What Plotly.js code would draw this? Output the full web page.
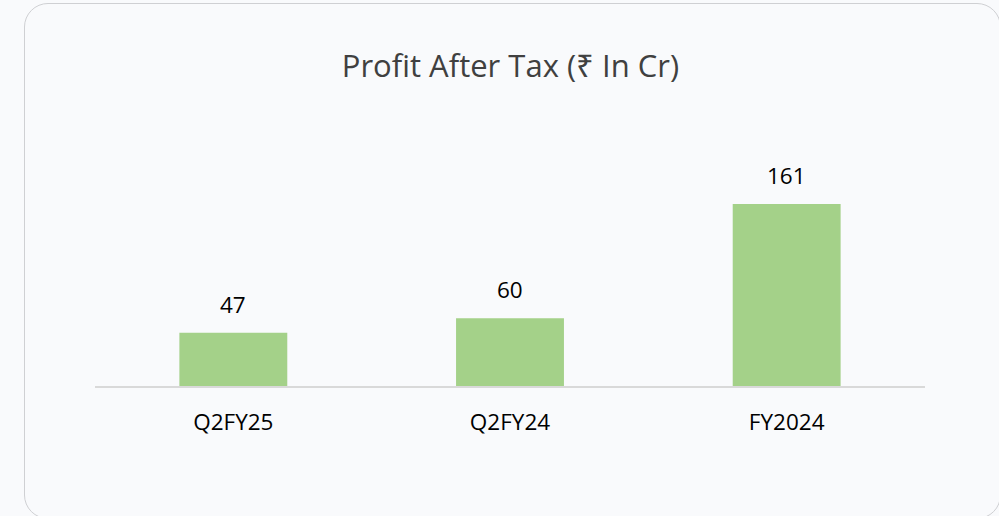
<!DOCTYPE html>
<html>
<head>
<meta charset="utf-8">
<script src="https://cdn.plot.ly/plotly-3.0.1.min.js"></script>
<style>
  html, body { margin: 0; padding: 0; background: #f9fafc; }
  #card { position: absolute; left: 24px; top: 3px; width: 977px; height: 516px;
          border: 1.5px solid #cfd0d3; border-radius: 24px; box-sizing: border-box; background: #f9fafc; }
  #chart { position: absolute; left: 0; top: 0; width: 999px; height: 516px; }
</style>
</head>
<body>
<div id="card"></div>
<div id="chart"></div>
<script>
const categories = ["Q2FY25", "Q2FY24", "FY2024"];
const profitValues = [47, 60, 161];
const valueLabels = ["47", "60", "161"];

const trace = {
  type: "bar",
  x: categories,
  y: profitValues,
  marker: { color: "#a4d189" },
  hoverinfo: "none"
};

const annotations = categories.map((c, i) => ({
  x: c, y: profitValues[i], xref: "x", yref: "y",
  text: valueLabels[i], showarrow: false, yanchor: "bottom", yshift: 11,
  font: { family: "Open Sans, sans-serif", size: 22.5, color: "#000000" }
}));

const layout = {
  width: 999, height: 516,
  paper_bgcolor: "rgba(0,0,0,0)", plot_bgcolor: "rgba(0,0,0,0)",
  margin: { l: 95, r: 74, t: 120, b: 130 },
  bargap: 0.61,
  showlegend: false,
  title: {
    text: "Profit After Tax (₹ In Cr)",
    x: 0.511, xanchor: "center", y: 0.872, yanchor: "middle",
    font: { family: "Open Sans, sans-serif", size: 31, color: "#404040" }
  },
  xaxis: {
    showline: true, linecolor: "#d9d9d9", linewidth: 2,
    showgrid: false, zeroline: false, ticks: "",
    ticklabelstandoff: 15,
    tickfont: { family: "Open Sans, sans-serif", size: 22.5, color: "#000000" },
    fixedrange: true
  },
  yaxis: {
    range: [0, 235.3], visible: false, showgrid: false, zeroline: false, fixedrange: true
  },
  annotations: annotations
};

Plotly.newPlot("chart", [trace], layout, { displayModeBar: false, staticPlot: true });
</script>
</body>
</html>
